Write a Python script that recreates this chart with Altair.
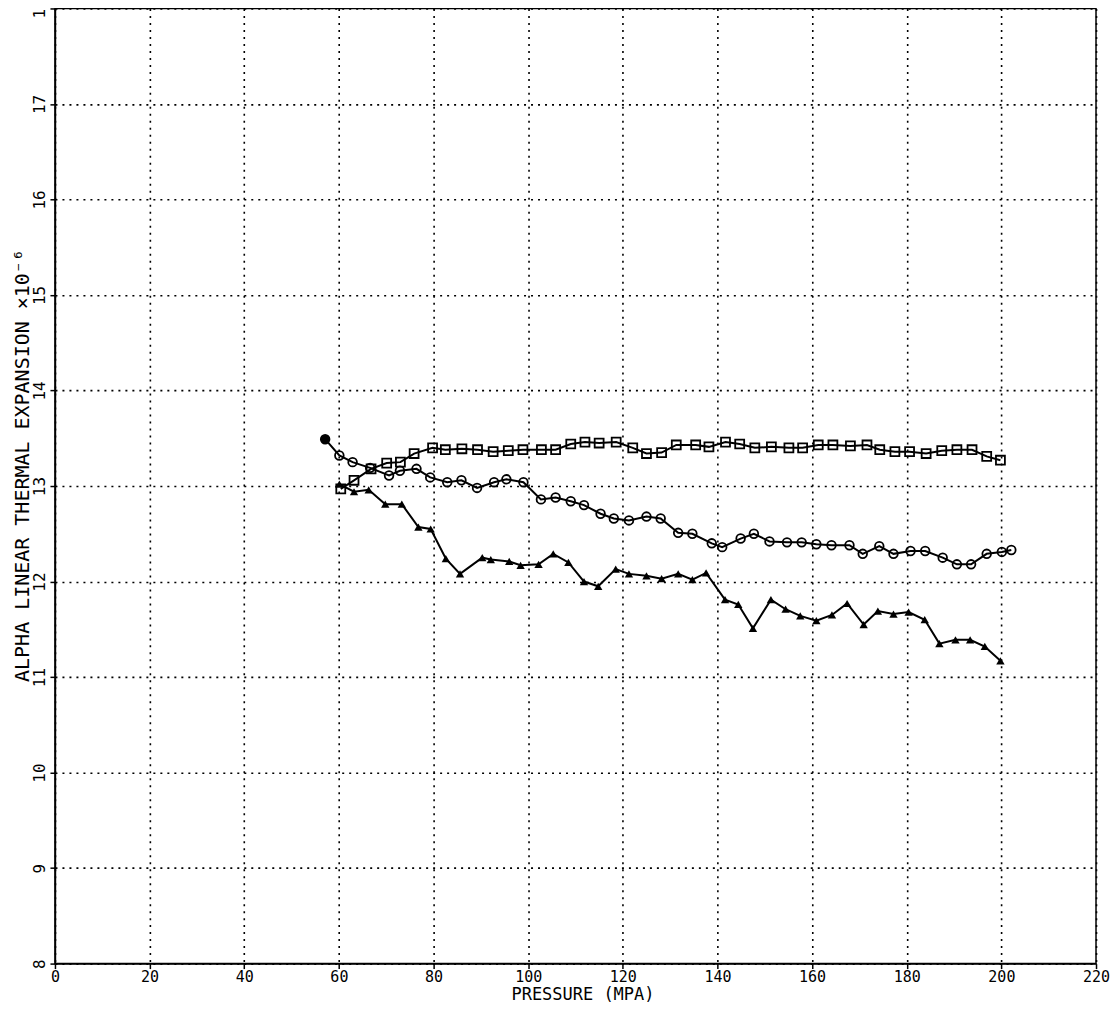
import altair as alt
import pandas as pd

# ---- data ----
circle_p = [57.1, 60.1, 62.9, 66.6, 70.6, 72.9, 76.4, 79.3, 82.9, 85.9, 89.2, 92.8, 95.4, 99.0,
            102.7, 105.8, 109.0, 111.8, 115.3, 118.1, 121.3, 125.0, 128.0, 131.7, 134.7, 138.8,
            141.0, 144.9, 147.7, 151.0, 154.7, 157.8, 160.9, 164.1, 167.9, 170.7, 174.2, 177.2,
            180.8, 183.9, 187.6, 190.6, 193.6, 196.9, 200.1, 202.1]
circle_v = [13.49, 13.32, 13.25, 13.19, 13.11, 13.16, 13.18, 13.09, 13.04, 13.06, 12.98, 13.04,
            13.07, 13.04, 12.86, 12.88, 12.84, 12.80, 12.71, 12.66, 12.64, 12.68, 12.66, 12.51,
            12.50, 12.40, 12.36, 12.45, 12.50, 12.42, 12.41, 12.41, 12.39, 12.38, 12.38, 12.29,
            12.37, 12.29, 12.32, 12.32, 12.25, 12.18, 12.18, 12.29, 12.31, 12.33]

square_p = [60.4, 63.2, 66.8, 70.1, 73.0, 75.9, 79.8, 82.5, 86.0, 89.3, 92.6, 95.8, 98.9, 102.8,
            105.8, 109.0, 112.0, 115.0, 118.6, 122.1, 125.0, 128.2, 131.3, 135.4, 138.2, 141.7,
            144.7, 147.9, 151.4, 155.1, 158.0, 161.3, 164.4, 168.1, 171.6, 174.3, 177.5, 180.6,
            184.1, 187.4, 190.6, 193.8, 196.9, 199.8]
square_v = [12.97, 13.06, 13.18, 13.24, 13.25, 13.34, 13.40, 13.38, 13.39, 13.38, 13.36, 13.37,
            13.38, 13.38, 13.38, 13.44, 13.46, 13.45, 13.46, 13.40, 13.34, 13.35, 13.43, 13.43,
            13.41, 13.46, 13.44, 13.40, 13.41, 13.40, 13.40, 13.43, 13.43, 13.42, 13.43, 13.38,
            13.36, 13.36, 13.34, 13.37, 13.38, 13.38, 13.31, 13.27]

triangle_p = [60.1, 63.2, 66.3, 69.8, 73.3, 76.8, 79.4, 82.6, 85.6, 90.3, 92.1, 96.0, 98.4, 102.2,
              105.3, 108.5, 111.8, 114.8, 118.5, 121.3, 125.0, 128.2, 131.7, 134.7, 137.6, 141.6,
              144.4, 147.5, 151.3, 154.4, 157.5, 160.9, 164.2, 167.4, 170.9, 173.9, 177.2, 180.4,
              183.8, 186.9, 190.3, 193.4, 196.5, 199.8]
triangle_v = [13.02, 12.94, 12.96, 12.81, 12.81, 12.57, 12.55, 12.24, 12.08, 12.25, 12.23, 12.21,
              12.17, 12.18, 12.29, 12.20, 12.00, 11.95, 12.13, 12.08, 12.06, 12.03, 12.08, 12.02,
              12.09, 11.81, 11.76, 11.51, 11.81, 11.71, 11.64, 11.59, 11.65, 11.77, 11.55, 11.69,
              11.66, 11.68, 11.60, 11.35, 11.39, 11.39, 11.32, 11.17]

x_ticks = list(range(0, 221, 20))
y_ticks = list(range(8, 19))
x_title = "PRESSURE  (MPA)"
y_title = "ALPHA  LINEAR THERMAL EXPANSION  ×10⁻⁶"

frames = []
for name, ps, vs in [("circle", circle_p, circle_v), ("square", square_p, square_v),
                     ("triangle", triangle_p, triangle_v)]:
    frames.append(pd.DataFrame({"series": name, "p": ps, "v": vs}))
df = pd.concat(frames, ignore_index=True)

FONT = "DejaVu Sans Mono"

xscale = alt.Scale(domain=[0, 220], nice=False, zero=False)
yscale = alt.Scale(domain=[8, 18], nice=False, zero=False)

xaxis = alt.Axis(values=x_ticks, title=x_title, format="d", labelAngle=0, labelFlush=False,
                 labelOverlap=False, labelFont=FONT, labelFontSize=15, labelColor="black",
                 labelPadding=1, tickSize=5, tickColor="black", tickWidth=1.5,
                 grid=True, gridColor="black", gridDash=[2, 5], gridWidth=1.6,
                 domainColor="black", domainWidth=1.5,
                 titleFont=FONT, titleFontSize=17, titleFontWeight="normal",
                 titleColor="black", titleX=528, titleY=23, titleAlign="center",
                 titleBaseline="top")

yaxis = alt.Axis(values=y_ticks, title=y_title, format="d",
                 labelExpr="datum.value == 18 ? '1' : datum.label",
                 labelAngle=270,
                 labelAlign={"condition": {"test": "datum.value == 18", "value": "right"},
                             "value": "center"},
                 labelBaseline="bottom", labelFlush=False, labelOverlap=False,
                 labelFont=FONT, labelFontSize=16, labelColor="black", labelPadding=2,
                 tickSize=5, tickColor="black", tickWidth=1.5,
                 grid=True, gridColor="black", gridDash=[2, 5], gridWidth=1.6,
                 domainColor="black", domainWidth=1.5,
                 titleFont=FONT, titleFontSize=20, titleFontWeight="normal",
                 titleColor="black", titleAngle=270, titleX=-22, titleY=457,
                 titleAlign="center", titleBaseline="bottom")

base = alt.Chart(df)

lines = base.mark_line(color="black", strokeWidth=2).encode(
    x=alt.X("p:Q", scale=xscale, axis=xaxis),
    y=alt.Y("v:Q", scale=yscale, axis=yaxis),
    detail="series:N",
)

enc = dict(x=alt.X("p:Q", scale=xscale), y=alt.Y("v:Q", scale=yscale))

circles = base.transform_filter("datum.series == 'circle'").mark_point(
    shape="circle", filled=False, size=75, strokeWidth=1.8, color="black", opacity=1
).encode(**enc)

first_circle = base.transform_filter("datum.series == 'circle' && datum.p < 58").mark_point(
    shape="circle", filled=True, size=75, color="black", opacity=1
).encode(**enc)

squares = base.transform_filter("datum.series == 'square'").mark_point(
    shape="square", filled=False, size=80, strokeWidth=1.8, color="black", opacity=1
).encode(**enc)

triangles = base.transform_filter("datum.series == 'triangle'").mark_point(
    shape="triangle-up", filled=True, size=70, color="black", opacity=1
).encode(**enc)

chart = alt.layer(lines, circles, first_circle, squares, triangles).properties(
    width=1042, height=956,
    autosize=alt.AutoSizeParams(type="none"),
    padding={"left": 47, "top": 0, "right": 16, "bottom": 41},
    background="white",
).configure_view(stroke="black", strokeWidth=1.5)

chart.save("out.html", embed_options={"renderer": "svg", "actions": False})
